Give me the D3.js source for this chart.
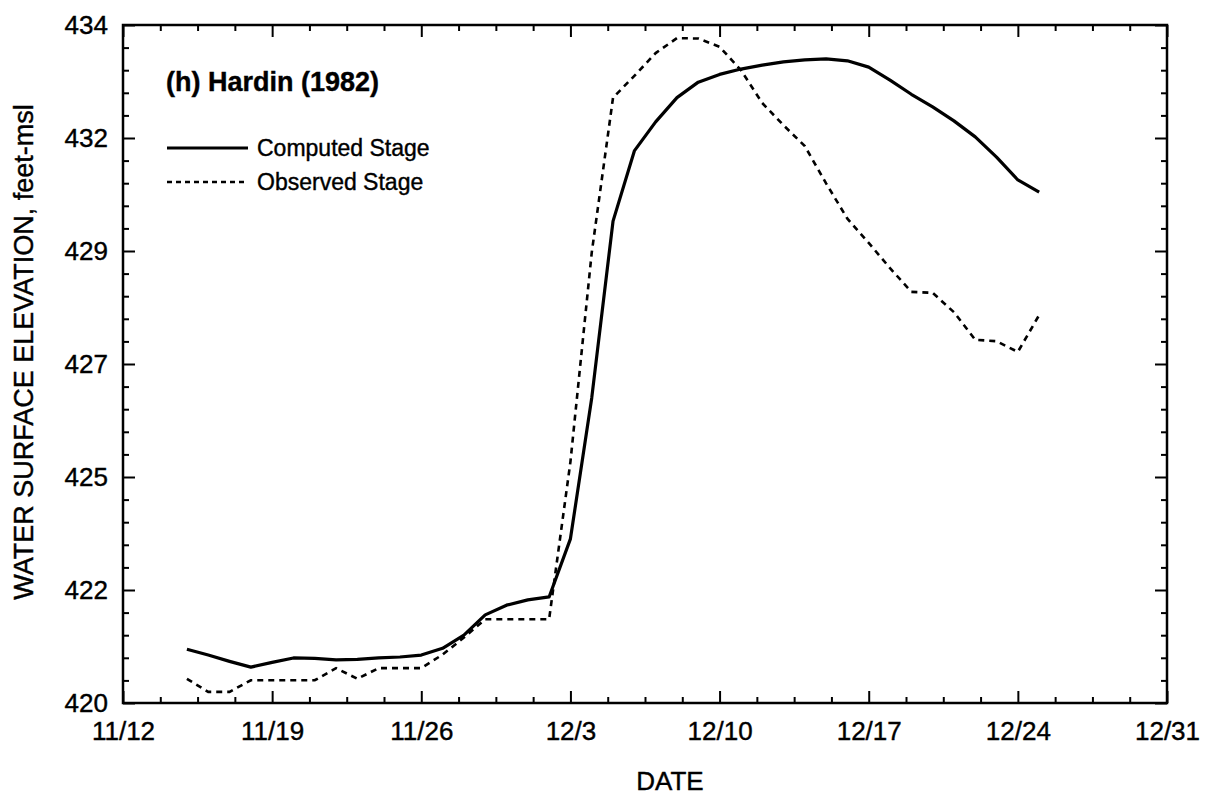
<!DOCTYPE html>
<html>
<head>
<meta charset="utf-8">
<script src="https://cdn.jsdelivr.net/npm/d3@7"></script>
<style>
  html, body { margin: 0; padding: 0; background: #fff; }
  svg { display: block; }
  text { font-family: "Liberation Sans", Arial, Helvetica, sans-serif; fill: #000; stroke: #000; stroke-width: 0.4px; }
</style>
</head>
<body>
<svg id="chart" width="1207" height="798"></svg>
<script>
// Daily stage at Hardin, 1982
const dates = [
  "1982-11-15","1982-11-16","1982-11-17","1982-11-18","1982-11-19","1982-11-20",
  "1982-11-21","1982-11-22","1982-11-23","1982-11-24","1982-11-25","1982-11-26",
  "1982-11-27","1982-11-28","1982-11-29","1982-11-30","1982-12-01","1982-12-02",
  "1982-12-03","1982-12-04","1982-12-05","1982-12-06","1982-12-07","1982-12-08",
  "1982-12-09","1982-12-10","1982-12-11","1982-12-12","1982-12-13","1982-12-14",
  "1982-12-15","1982-12-16","1982-12-17","1982-12-18","1982-12-19","1982-12-20",
  "1982-12-21","1982-12-22","1982-12-23","1982-12-24","1982-12-25"
];
const computedStage = [
  421.11, 420.99, 420.86, 420.74, 420.84, 420.93,
  420.92, 420.89, 420.90, 420.93, 420.95, 420.99,
  421.13, 421.40, 421.82, 422.02, 422.13, 422.19,
  423.39, 426.30, 429.95, 431.40, 432.00, 432.50,
  432.82, 432.98, 433.09, 433.17, 433.24, 433.28,
  433.30, 433.26, 433.13, 432.86, 432.57, 432.31,
  432.02, 431.69, 431.27, 430.80, 430.55
];
const observedStage = [
  420.50, 420.23, 420.23, 420.47, 420.47, 420.47,
  420.47, 420.72, 420.50, 420.72, 420.72, 420.72,
  421.00, 421.35, 421.73, 421.73, 421.73, 421.73,
  424.98, 429.30, 432.50, 432.95, 433.42, 433.73,
  433.72, 433.55, 433.07, 432.39, 431.93, 431.50,
  430.73, 430.00, 429.50, 428.98, 428.49, 428.47,
  428.07, 427.50, 427.47, 427.25, 428.01
];

// Axis ticks and labels
const xTickDates = ["1982-11-12","1982-11-19","1982-11-26","1982-12-03","1982-12-10","1982-12-17","1982-12-24","1982-12-31"];
const xTickLabels = ["11/12","11/19","11/26","12/3","12/10","12/17","12/24","12/31"];
const yTickValues = [420, 422.3333, 424.6667, 427, 429.3333, 431.6667, 434];
const yTickLabels = ["420","422","425","427","429","432","434"];
const xMinorPerMajor = 4;
const yMinorPerMajor = 5;

const chartTitle = "(h) Hardin (1982)";
const seriesNames = ["Computed Stage", "Observed Stage"];
const xTitle = "DATE";
const yTitle = "WATER SURFACE ELEVATION, feet-msl";

const parse = d3.timeParse("%Y-%m-%d");
const W = 1207, H = 798;
const m = { left: 123, right: 40, top: 25, bottom: 95 };
const plotW = W - m.left - m.right, plotH = H - m.top - m.bottom;

const svg = d3.select("#chart");
const g = svg.append("g").attr("transform", `translate(${m.left},${m.top})`);

const x = d3.scaleTime()
  .domain([parse(xTickDates[0]), parse(xTickDates[xTickDates.length - 1])])
  .range([0, plotW]);
const y = d3.scaleLinear().domain([420, 434]).range([plotH, 0]);

const majorX = xTickDates.map(parse);
const minorX = [];
for (let i = 0; i < majorX.length - 1; i++) {
  const a = +majorX[i], b = +majorX[i + 1];
  for (let k = 1; k < xMinorPerMajor; k++) minorX.push(new Date(a + (b - a) * k / xMinorPerMajor));
}
const minorY = [];
for (let i = 0; i < yTickValues.length - 1; i++) {
  const a = yTickValues[i], b = yTickValues[i + 1];
  for (let k = 1; k < yMinorPerMajor; k++) minorY.push(a + (b - a) * k / yMinorPerMajor);
}

const MAJ = 12, MIN = 6;
function styleAxis(sel) {
  sel.select(".domain").remove();
  sel.selectAll(".tick line").attr("stroke", "#000").attr("stroke-width", 2);
  sel.selectAll(".tick text").style("font-size", "26px").attr("fill", "#000");
}

// bottom
g.append("g").attr("transform", `translate(0,${plotH})`)
  .call(d3.axisBottom(x).tickValues(majorX).tickFormat((d, i) => xTickLabels[i])
    .tickSizeInner(-MAJ).tickSizeOuter(0).tickPadding(19))
  .call(styleAxis);
g.append("g").attr("transform", `translate(0,${plotH})`)
  .call(d3.axisBottom(x).tickValues(minorX).tickFormat("").tickSizeInner(-MIN).tickSizeOuter(0))
  .call(styleAxis);
// top
g.append("g")
  .call(d3.axisTop(x).tickValues(majorX).tickFormat("").tickSizeInner(-MAJ).tickSizeOuter(0))
  .call(styleAxis);
g.append("g")
  .call(d3.axisTop(x).tickValues(minorX).tickFormat("").tickSizeInner(-MIN).tickSizeOuter(0))
  .call(styleAxis);
// left
g.append("g")
  .call(d3.axisLeft(y).tickValues(yTickValues).tickFormat((d, i) => yTickLabels[i])
    .tickSizeInner(-MAJ).tickSizeOuter(0).tickPadding(15))
  .call(styleAxis);
g.append("g")
  .call(d3.axisLeft(y).tickValues(minorY).tickFormat("").tickSizeInner(-MIN).tickSizeOuter(0))
  .call(styleAxis);
// right
g.append("g").attr("transform", `translate(${plotW},0)`)
  .call(d3.axisRight(y).tickValues(yTickValues).tickFormat("").tickSizeInner(-MAJ).tickSizeOuter(0))
  .call(styleAxis);
g.append("g").attr("transform", `translate(${plotW},0)`)
  .call(d3.axisRight(y).tickValues(minorY).tickFormat("").tickSizeInner(-MIN).tickSizeOuter(0))
  .call(styleAxis);

// frame
g.append("rect").attr("x", 0).attr("y", 0).attr("width", plotW).attr("height", plotH)
  .attr("fill", "none").attr("stroke", "#000").attr("stroke-width", 2.5);

// series
const line = d3.line().x(d => x(d[0])).y(d => y(d[1]));
const dts = dates.map(parse);
g.append("path")
  .datum(dts.map((d, i) => [d, observedStage[i]]))
  .attr("d", line).attr("fill", "none").attr("stroke", "#000")
  .attr("stroke-width", 2.6).attr("stroke-dasharray", "6,5");
g.append("path")
  .datum(dts.map((d, i) => [d, computedStage[i]]))
  .attr("d", line).attr("fill", "none").attr("stroke", "#000")
  .attr("stroke-width", 3.2).attr("stroke-linejoin", "round");

// title and legend
svg.append("text").attr("x", 166).attr("y", 91)
  .style("font-size", "27px").style("font-weight", "bold").text(chartTitle);

const legY = [148, 182];
const dashes = [null, "5,4"];
const widths = [3, 2.4];
seriesNames.forEach((name, i) => {
  svg.append("line").attr("x1", 167).attr("x2", 248).attr("y1", legY[i]).attr("y2", legY[i])
    .attr("stroke", "#000").attr("stroke-width", widths[i])
    .attr("stroke-dasharray", dashes[i]);
  svg.append("text").attr("x", 257).attr("y", legY[i] + 8)
    .style("font-size", "23px").text(name);
});

// axis titles
svg.append("text").attr("x", 670).attr("y", 790).attr("text-anchor", "middle")
  .style("font-size", "26px").text(xTitle);
svg.append("text").attr("transform", "translate(33,352) rotate(-90)")
  .attr("text-anchor", "middle").style("font-size", "27px").text(yTitle);
</script>
</body>
</html>
